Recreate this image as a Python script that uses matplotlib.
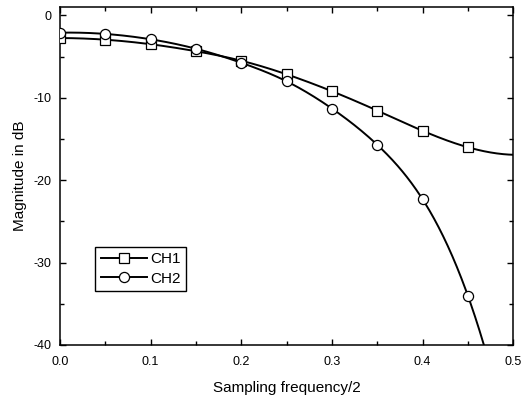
import numpy as np
import matplotlib
matplotlib.use("Agg")
import matplotlib.pyplot as plt

freq = [0.0, 0.05, 0.10, 0.15, 0.20, 0.25, 0.30, 0.35, 0.40, 0.45]
ch1 = [-2.75, -2.95, -3.5, -4.35, -5.5, -7.15, -9.2, -11.55, -14.0, -16.0]
ch2 = [-2.1, -2.25, -2.9, -4.05, -5.75, -8.0, -11.3, -15.7, -22.3, -34.0]


def notaknot_spline(x, y, xs):
    """Cubic spline with not-a-knot ends; extrapolates the end segments."""
    x = np.asarray(x, float); y = np.asarray(y, float)
    n = len(x)
    h = np.diff(x)
    A = np.zeros((n, n)); b = np.zeros(n)
    A[0, 0] = -h[1]; A[0, 1] = h[0] + h[1]; A[0, 2] = -h[0]
    A[-1, -3] = -h[-1]; A[-1, -2] = h[-2] + h[-1]; A[-1, -1] = -h[-2]
    for i in range(1, n - 1):
        A[i, i - 1] = h[i - 1]
        A[i, i] = 2 * (h[i - 1] + h[i])
        A[i, i + 1] = h[i]
        b[i] = 3 * ((y[i + 1] - y[i]) / h[i] - (y[i] - y[i - 1]) / h[i - 1])
    c = np.linalg.solve(A, b)
    bb = (y[1:] - y[:-1]) / h - h * (2 * c[:-1] + c[1:]) / 3
    d = (c[1:] - c[:-1]) / (3 * h)
    idx = np.clip(np.searchsorted(x, xs) - 1, 0, n - 2)
    dx = xs - x[idx]
    return y[idx] + bb[idx] * dx + c[idx] * dx ** 2 + d[idx] * dx ** 3


plt.rcParams['font.family'] = ['Liberation Sans', 'DejaVu Sans']
plt.rcParams['axes.unicode_minus'] = False
fig = plt.figure(figsize=(5.22, 3.97), dpi=100)
ax = fig.add_axes([0.115, 0.131, 0.868, 0.851])

xs = np.linspace(0, 0.5, 500)
for y, mk, ms, lab in [(ch1, 's', 6.5, 'CH1'), (ch2, 'o', 7.3, 'CH2')]:
    ys = notaknot_spline(freq, y, xs)
    ax.plot(xs, ys, color='black', lw=1.4, zorder=2)
    ax.plot(freq, y, linestyle='none', marker=mk, ms=ms, mfc='white', mec='black', mew=0.9, zorder=3)
    ax.plot([], [], color='black', lw=1.4, marker=mk, ms=ms, mfc='white', mec='black', mew=0.9, label=lab)

ax.set_xlim(0, 0.5)
ax.set_ylim(-40, 1)
ax.set_xticks([0.0, 0.1, 0.2, 0.3, 0.4, 0.5])
ax.set_xticklabels(['0.0', '0.1', '0.2', '0.3', '0.4', '0.5'])
ax.set_xticks(np.arange(0.05, 0.5, 0.1), minor=True)
ax.set_yticks([-40, -30, -20, -10, 0])
ax.set_yticks([-35, -25, -15, -5], minor=True)
ax.tick_params(which='both', direction='in', top=True, right=True, labelsize=9, width=1)
ax.tick_params(axis='x', which='major', pad=8)
ax.tick_params(axis='y', which='major', pad=6.5)
ax.tick_params(which='major', length=4.5)
ax.tick_params(which='minor', length=3)
for s in ax.spines.values():
    s.set_linewidth(1.1)

ax.set_xlabel('Sampling frequency/2', fontsize=11, labelpad=9)
ax.set_ylabel('Magnitude in dB', fontsize=11, labelpad=4)

leg = ax.legend(loc='lower left', bbox_to_anchor=(0.078, 0.16), fontsize=11, frameon=True,
                fancybox=False, edgecolor='black', handlelength=3.0, handletextpad=0.25,
                borderpad=0.35, labelspacing=0.35, borderaxespad=0)
leg.get_frame().set_linewidth(1.0)
leg.get_frame().set_alpha(1)

fig.savefig('out.png', dpi=100)
